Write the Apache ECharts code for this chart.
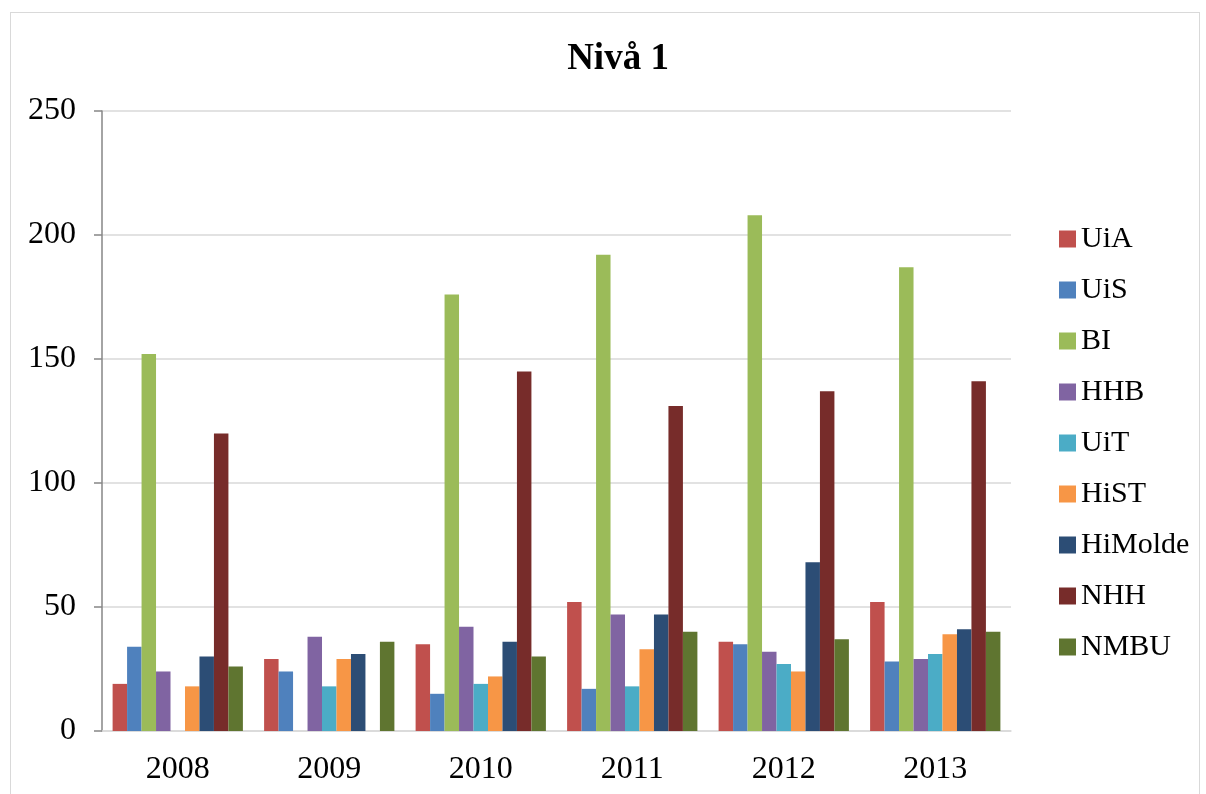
<!DOCTYPE html>
<html>
<head>
<meta charset="utf-8">
<script src="https://cdn.jsdelivr.net/npm/echarts@6/dist/echarts.min.js"></script>
<style>
  html, body { margin: 0; padding: 0; background: #fff; }
  #frame { position: absolute; left: 10px; top: 12px; width: 1190px; height: 800px; border: 1px solid #d9d9d9; box-sizing: border-box; }
  #main { position: absolute; left: 0; top: 0; width: 1206px; height: 794px; }
</style>
</head>
<body>
<div id="frame"></div>
<div id="main"></div>
<script>
// years on the x axis
var years = ['2008', '2009', '2010', '2011', '2012', '2013']
// one array per school, null = no bar
var uia = [19, 29, 35, 52, 36, 52]
var uis = [34, 24, 15, 17, 35, 28]
var bi = [152, null, 176, 192, 208, 187]
var hhb = [24, 38, 42, 47, 32, 29]
var uit = [null, 18, 19, 18, 27, 31]
var hist = [18, 29, 22, 33, 24, 39]
var himolde = [30, 31, 36, 47, 68, 41]
var nhh = [120, null, 145, 131, 137, 141]
var nmbu = [26, 36, 30, 40, 37, 40]
var yTicks = [0, 50, 100, 150, 200, 250]

var names = ['UiA', 'UiS', 'BI', 'HHB', 'UiT', 'HiST', 'HiMolde', 'NHH', 'NMBU']
var colors = ['#C0504D', '#4F81BD', '#9BBB59', '#8064A2', '#4BACC6', '#F79646', '#2C4D75', '#772C2A', '#5F7530']
var values = [uia, uis, bi, hhb, uit, hist, himolde, nhh, nmbu]

var font = '"Liberation Serif", "DejaVu Serif", serif'

var series = []
for (var i = 0; i < names.length; i++) {
  series.push({
    name: names[i],
    type: 'bar',
    data: values[i],
    barGap: '0%',
    barCategoryGap: '14%',
    itemStyle: { color: colors[i] }
  })
}

var myChart = echarts.init(document.getElementById('main'))
var option = {
  animation: false,
  backgroundColor: 'transparent',
  title: {
    text: 'Nivå 1',
    left: 613,
    textAlign: 'center',
    top: 36,
    textStyle: { fontFamily: font, fontSize: 37, fontWeight: 'bold', color: '#000' }
  },
  legend: {
    orient: 'vertical',
    left: 1054,
    top: 219,
    itemWidth: 17,
    itemHeight: 17,
    itemGap: 21,
    icon: 'rect',
    data: names,
    textStyle: { fontFamily: font, fontSize: 30, color: '#000', lineHeight: 30 }
  },
  grid: {
    left: 102,
    right: 195,
    top: 111,
    bottom: 63,
    containLabel: false
  },
  xAxis: {
    type: 'category',
    data: years,
    axisLine: { lineStyle: { color: '#d9d9d9', width: 1.5 } },
    axisTick: { show: false },
    axisLabel: { fontFamily: font, fontSize: 32, color: '#000', margin: 23 }
  },
  yAxis: {
    type: 'value',
    min: 0,
    max: 250,
    interval: 50,
    axisLine: { show: true, lineStyle: { color: '#868686', width: 1.5 } },
    axisTick: { show: true, length: 8, lineStyle: { color: '#868686', width: 1.5 } },
    splitLine: { lineStyle: { color: '#d9d9d9', width: 1.5 } },
    axisLabel: {
      fontFamily: font, fontSize: 32, color: '#000', margin: 26,
      formatter: function (v) { return yTicks.indexOf(v) >= 0 ? String(v) : '' }
    }
  },
  series: series
}
myChart.setOption(option)
</script>
</body>
</html>
